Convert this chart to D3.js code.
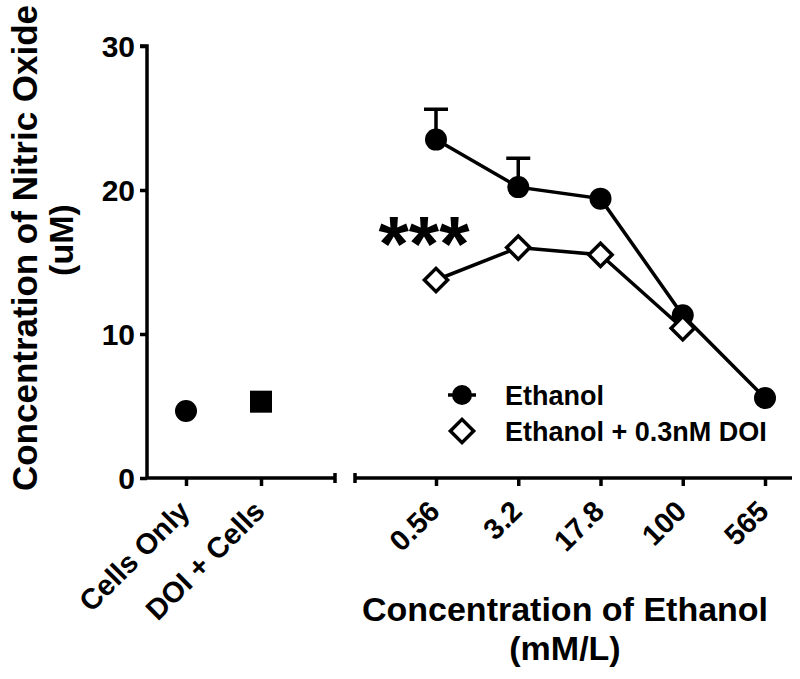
<!DOCTYPE html>
<html>
<head>
<meta charset="utf-8">
<script src="https://cdn.jsdelivr.net/npm/d3@7"></script>
<style>
body { margin: 0; background: #fff; }
text { font-family: Arial, "Liberation Sans", sans-serif; font-weight: bold; fill: #000; }
</style>
</head>
<body>
<svg id="chart" width="800" height="679"></svg>
<script>
// control groups (left segment)
var ctrlLabels = ["Cells Only", "DOI + Cells"];
var ctrlValues = [4.65, 5.3];
// ethanol doses (right segment)
var doseLabels = ["0.56", "3.2", "17.8", "100", "565"];
var ethanolMean = [23.5, 20.2, 19.4, 11.3, 5.55];
var ethanolErr = [2.1, 2.0, 0, 0, 0];
var doiMean = [13.75, 16.0, 15.5, 10.4, null];
var yTicks = [0, 10, 20, 30];

var svg = d3.select("#chart");
var y = d3.scaleLinear().domain([0, 30]).range([478, 46]);
var xl = d3.scalePoint().domain(ctrlLabels).range([186, 261]);
var xr = d3.scalePoint().domain(doseLabels).range([436, 765]);

var g = svg.append("g");

// y axis
var yAxis = g.append("g")
    .attr("transform", "translate(147,0)")
    .call(d3.axisLeft(y).tickValues(yTicks).tickSize(7).tickPadding(5));
yAxis.select(".domain").attr("d", "M-7," + y(30) + "H0V" + y(0));
yAxis.selectAll("text").style("font-size", "30px").attr("dy", "0.36em");

// left x segment
var xlAxis = g.append("g")
    .attr("transform", "translate(0,478)")
    .call(d3.axisBottom(xl).tickSize(8));
xlAxis.select(".domain").attr("d", "M147,0H335M335,-5V5");

// right x segment
var xrAxis = g.append("g")
    .attr("transform", "translate(0,478)")
    .call(d3.axisBottom(xr).tickSize(8));
xrAxis.select(".domain").attr("d", "M355,-5V5M355,0H792");

svg.selectAll(".domain, .tick line").attr("stroke", "#000").attr("stroke-width", 3.5);
svg.selectAll(".tick text").style("font-family", "Arial, 'Liberation Sans', sans-serif").style("font-weight", "bold");
[xlAxis, xrAxis].forEach(function (ax) {
    ax.selectAll("text")
        .style("font-size", "29px")
        .attr("text-anchor", "end")
        .attr("x", 0).attr("y", 0).attr("dy", 0)
        .attr("transform", "translate(5,35) rotate(-45)");
});

// control points
g.append("circle")
    .attr("cx", xl(ctrlLabels[0])).attr("cy", y(ctrlValues[0])).attr("r", 11).attr("fill", "#000");
g.append("rect")
    .attr("x", xl(ctrlLabels[1]) - 11).attr("y", y(ctrlValues[1]) - 11)
    .attr("width", 22).attr("height", 22).attr("fill", "#000");

var line = function (vals) {
    return d3.line()
        .defined(function (d) { return d != null; })
        .x(function (d, i) { return xr(doseLabels[i]); })
        .y(function (d) { return y(d); })(vals);
};
var diamond = d3.symbol().type(d3.symbolSquare).size(270);

// Ethanol series
g.append("path").attr("d", line(ethanolMean))
    .attr("fill", "none").attr("stroke", "#000").attr("stroke-width", 3.5);
g.selectAll(".err").data(ethanolMean).enter().append("path")
    .filter(function (d, i) { return ethanolErr[i] > 0; })
    .attr("d", function (d) {
        var i = ethanolMean.indexOf(d);
        var xi = xr(doseLabels[i]);
        var top = y(d + ethanolErr[i]);
        return "M" + xi + "," + y(d) + "V" + top + "M" + (xi - 12) + "," + top + "H" + (xi + 12);
    })
    .attr("fill", "none").attr("stroke", "#000").attr("stroke-width", 3.5);
g.selectAll(".eth").data(ethanolMean).enter().append("circle")
    .attr("class", "eth")
    .attr("cx", function (d, i) { return xr(doseLabels[i]); })
    .attr("cy", function (d) { return y(d); })
    .attr("r", 11).attr("fill", "#000");

// DOI series (drawn on top)
g.append("path").attr("d", line(doiMean))
    .attr("fill", "none").attr("stroke", "#000").attr("stroke-width", 3.5);
g.selectAll(".doi").data(doiMean).enter().append("path")
    .filter(function (d) { return d != null; })
    .attr("class", "doi")
    .attr("d", diamond)
    .attr("transform", function (d) { return "translate(" + xr(doseLabels[doiMean.indexOf(d)]) + "," + y(d) + ") rotate(45)"; })
    .attr("fill", "#fff").attr("stroke", "#000").attr("stroke-width", 3.5);

// significance
g.append("text").attr("x", 424).attr("y", 271).attr("text-anchor", "middle")
    .style("font-size", "78px").text("***");

// legend
var leg = g.append("g").attr("transform", "translate(462,395)");
leg.append("line").attr("x1", -14).attr("x2", 14).attr("stroke", "#000").attr("stroke-width", 3.5);
leg.append("circle").attr("r", 10).attr("fill", "#000");
leg.append("text").attr("x", 43).attr("y", 0).attr("dy", "0.36em").style("font-size", "27px").text("Ethanol");
leg.append("path").attr("d", diamond).attr("transform", "translate(0,36) rotate(45)")
    .attr("fill", "#fff").attr("stroke", "#000").attr("stroke-width", 3.5);
leg.append("text").attr("x", 43).attr("y", 36).attr("dy", "0.36em").style("font-size", "27px").text("Ethanol + 0.3nM DOI");

// axis titles
svg.append("text").attr("transform", "translate(37,248) rotate(-90)")
    .attr("text-anchor", "middle").style("font-size", "35px").text("Concentration of Nitric Oxide");
svg.append("text").attr("transform", "translate(73,240) rotate(-90)")
    .attr("text-anchor", "middle").style("font-size", "34px").text("(uM)");
svg.append("text").attr("x", 565).attr("y", 621)
    .attr("text-anchor", "middle").style("font-size", "34px").text("Concentration of Ethanol");
svg.append("text").attr("x", 565).attr("y", 660)
    .attr("text-anchor", "middle").style("font-size", "34px").text("(mM/L)");
</script>
</body>
</html>
